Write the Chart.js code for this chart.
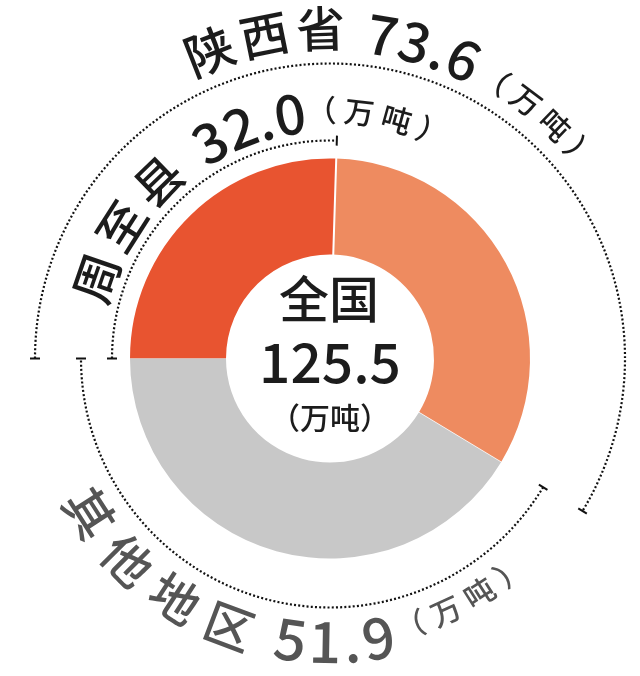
<!DOCTYPE html>
<html><head><meta charset="utf-8">
<script src="https://cdn.jsdelivr.net/npm/chart.js@4.4.0/dist/chart.umd.min.js"></script>
<style>html,body{margin:0;padding:0;background:#fff}#wrap{width:640px;height:676px;position:relative}</style>
</head><body><div id="wrap"><canvas id="c"></canvas></div>
<script>
// ---- data ----
const sliceLabels = ['周至县', '陕西省其他县区', '其他地区'];
const sliceValues = [32.0, 41.6, 51.9];
const calloutLabels = ['周至县', '陕西省', '其他地区'];
const calloutValues = ['32.0', '73.6', '51.9'];
const unitLabel = '（万吨）';
const totalLabel = '全国';
const totalValue = '125.5';
const sliceColors = ['#E85430', '#EE8B60', '#C8C8C8'];

const FONT = '"Noto Sans CJK SC", "Noto Sans", sans-serif';

// curved callout layout: angles in degrees clockwise from 12 o'clock
const calloutLayout = [
  { dir: 1, color: '#1c1c1c', parts: [
    { r: 247, deg: -71, size: 48, gap: 10 },
    { r: 248, deg: -29, size: 55, gap: 2 },
    { r: 248, deg: -2, size: 30, gap: 8 } ] },
  { dir: 1, color: '#1c1c1c', parts: [
    { r: 330, deg: -21.4, size: 49, gap: 8 },
    { r: 328, deg: 9.2, size: 55, gap: 2 },
    { r: 324, deg: 30.5, size: 30, gap: 8 } ] },
  { dir: -1, color: '#555555', parts: [
    { r: 286, deg: 237.3, size: 49, gap: 12 },
    { r: 283, deg: 188, size: 57, gap: 2 },
    { r: 278, deg: 163.2, size: 30, gap: 8 } ] }
];

function drawArcText(ctx, cx, cy, text, p, dir, color) {
  ctx.save();
  ctx.font = '500 ' + p.size + 'px ' + FONT;
  ctx.fillStyle = color;
  ctx.textAlign = 'center';
  ctx.textBaseline = 'middle';
  const chars = Array.from(text);
  let th = p.deg * Math.PI / 180;
  let prevW = 0;
  chars.forEach((ch, i) => {
    const w = ctx.measureText(ch).width;
    if (i > 0) th += dir * ((prevW / 2 + p.gap + w / 2) / p.r);
    prevW = w;
    const x = cx + p.r * Math.sin(th), y = cy - p.r * Math.cos(th);
    ctx.save();
    ctx.translate(x, y);
    ctx.rotate(dir > 0 ? th : th + Math.PI);
    ctx.fillText(ch, 0, 0);
    ctx.restore();
  });
  ctx.restore();
}

function dottedArc(ctx, cx, cy, r, a0, a1) {
  ctx.save();
  ctx.strokeStyle = '#111';
  ctx.lineWidth = 2.2;
  ctx.setLineDash([2, 2.2]);
  ctx.beginPath();
  ctx.arc(cx, cy, r, a0, a1);
  ctx.stroke();
  ctx.setLineDash([]);
  ctx.lineWidth = 2;
  [a0, a1].forEach(a => {
    ctx.beginPath();
    ctx.moveTo(cx + (r - 5) * Math.cos(a), cy + (r - 5) * Math.sin(a));
    ctx.lineTo(cx + (r + 5) * Math.cos(a), cy + (r + 5) * Math.sin(a));
    ctx.stroke();
  });
  ctx.restore();
}

const decor = {
  id: 'decor',
  afterDatasetsDraw(chart) {
    const ctx = chart.ctx;
    const arcs = chart.getDatasetMeta(0).data;
    const cx = arcs[0].x, cy = arcs[0].y, R = arcs[0].outerRadius, r0 = arcs[0].innerRadius;
    // separators between slices
    [[arcs[0].endAngle, 2, '#ffffff'], [arcs[1].endAngle, 1, 'rgba(255,255,255,0.7)']].forEach(([a, w, c]) => {
      ctx.save();
      ctx.strokeStyle = c; ctx.lineWidth = w;
      ctx.beginPath();
      ctx.moveTo(cx + (r0 - 1) * Math.cos(a), cy + (r0 - 1) * Math.sin(a));
      ctx.lineTo(cx + (R + 1) * Math.cos(a), cy + (R + 1) * Math.sin(a));
      ctx.stroke();
      ctx.restore();
    });
  },
  afterDraw(chart) {
    const ctx = chart.ctx;
    const arcs = chart.getDatasetMeta(0).data;
    const cx = arcs[0].x, cy = arcs[0].y, R = arcs[0].outerRadius;
    dottedArc(ctx, cx, cy, R + 18, arcs[0].startAngle, arcs[0].endAngle);
    dottedArc(ctx, cx, cy, R + 95, arcs[0].startAngle, arcs[1].endAngle);
    dottedArc(ctx, cx, cy, R + 49, arcs[2].startAngle, arcs[2].endAngle);

    calloutLayout.forEach((g, i) => {
      const texts = [calloutLabels[i], calloutValues[i], unitLabel];
      g.parts.forEach((p, j) => drawArcText(ctx, cx, cy, texts[j], p, g.dir, g.color));
    });

    ctx.save();
    ctx.fillStyle = '#1c1c1c';
    ctx.textAlign = 'center';
    ctx.textBaseline = 'middle';
    ctx.font = '500 50px ' + FONT;
    ctx.fillText(totalLabel, cx - 1, cy - 60);
    ctx.font = '500 55px ' + FONT;
    ctx.fillText(totalValue, cx, cy + 4);
    ctx.font = '500 30px ' + FONT;
    ctx.fillText(unitLabel, cx, cy + 59);
    ctx.restore();
  }
};

const chart = new Chart(document.getElementById('c'), {
  type: 'doughnut',
  data: {
    labels: sliceLabels,
    datasets: [{
      data: sliceValues,
      backgroundColor: sliceColors,
      borderWidth: 0,
      hoverOffset: 0
    }]
  },
  options: {
    responsive: true,
    maintainAspectRatio: false,
    animation: false,
    rotation: -90,
    cutout: '52%',
    layout: { padding: { left: 130, right: 110, top: 158, bottom: 117 } },
    plugins: { legend: { display: false }, tooltip: { enabled: false } }
  },
  plugins: [decor]
});
if (document.fonts && document.fonts.ready) document.fonts.ready.then(() => chart.draw());
</script>
</body></html>
